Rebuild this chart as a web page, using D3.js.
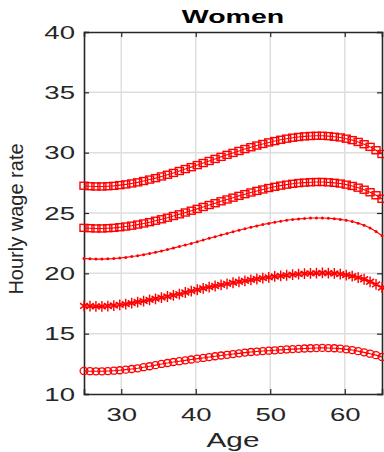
<!DOCTYPE html>
<html><head><meta charset="utf-8">
<script src="https://cdn.jsdelivr.net/npm/d3@7"></script>
<style>html,body{margin:0;padding:0;background:#fff;overflow:hidden}</style>
</head><body>
<svg id="chart" width="384" height="452"></svg>
<script>
const title = "Women";
const xLabel = "Age";
const yLabel = "Hourly wage rate";
const xTicks = [30, 40, 50, 60];
const yTicks = [10, 15, 20, 25, 30, 35, 40];
const ages = [25,25.8,26.6,27.4,28.2,29,29.8,30.6,31.4,32.2,33,33.8,34.6,35.4,36.2,37,37.8,38.6,39.4,40.2,41,41.8,42.6,43.4,44.2,45,45.8,46.6,47.4,48.2,49,49.8,50.6,51.4,52.2,53,53.8,54.6,55.4,56.2,57,57.8,58.6,59.4,60.2,61,61.8,62.6,63.4,64.2,65];
const seriesTop = [27.26,27.22,27.20,27.20,27.22,27.25,27.31,27.37,27.45,27.54,27.65,27.77,27.89,28.03,28.17,28.32,28.48,28.64,28.80,28.97,29.14,29.31,29.48,29.65,29.82,29.98,30.14,30.30,30.45,30.59,30.72,30.85,30.96,31.07,31.16,31.24,31.30,31.35,31.38,31.40,31.40,31.37,31.32,31.26,31.16,31.04,30.89,30.70,30.48,30.20,29.89];
const seriesSecond = [23.77,23.74,23.72,23.72,23.74,23.77,23.82,23.88,23.95,24.04,24.13,24.24,24.36,24.48,24.61,24.75,24.89,25.04,25.19,25.34,25.50,25.66,25.81,25.97,26.12,26.27,26.42,26.56,26.70,26.83,26.95,27.07,27.17,27.27,27.35,27.42,27.48,27.52,27.55,27.57,27.57,27.54,27.50,27.44,27.35,27.24,27.10,26.93,26.72,26.47,26.18];
const seriesMiddle = [21.23,21.20,21.18,21.18,21.20,21.22,21.27,21.32,21.39,21.46,21.55,21.64,21.74,21.85,21.97,22.09,22.22,22.35,22.48,22.62,22.76,22.90,23.03,23.17,23.30,23.44,23.57,23.70,23.82,23.93,24.04,24.14,24.24,24.32,24.40,24.46,24.51,24.55,24.58,24.59,24.59,24.57,24.53,24.47,24.40,24.30,24.16,23.98,23.76,23.46,23.12];
const seriesFourth = [17.30,17.28,17.26,17.26,17.29,17.33,17.39,17.45,17.53,17.62,17.70,17.80,17.89,17.99,18.08,18.18,18.28,18.41,18.53,18.64,18.76,18.86,18.95,19.04,19.13,19.22,19.30,19.38,19.46,19.53,19.60,19.67,19.74,19.79,19.84,19.89,19.93,19.97,20.00,20.02,20.03,20.02,19.99,19.94,19.86,19.77,19.65,19.51,19.30,19.08,18.82];
const seriesBottom = [11.91,11.89,11.88,11.88,11.90,11.93,11.97,12.02,12.07,12.13,12.22,12.30,12.39,12.49,12.57,12.65,12.72,12.79,12.86,12.93,12.99,13.06,13.13,13.19,13.25,13.31,13.37,13.43,13.48,13.52,13.56,13.59,13.62,13.66,13.69,13.72,13.74,13.77,13.79,13.81,13.82,13.81,13.79,13.76,13.70,13.64,13.55,13.45,13.34,13.22,13.07];

const series = [
  {values: seriesTop, marker: "square"},
  {values: seriesSecond, marker: "square"},
  {values: seriesMiddle, marker: "dot"},
  {values: seriesFourth, marker: "asterisk"},
  {values: seriesBottom, marker: "circle"}
];

const red = "#ff0000";
const axisColor = "#262626";
const margin = {left: 84, right: 2, top: 32, bottom: 58};
const W = 384, H = 452;
const x = d3.scaleLinear().domain([25, 65]).range([margin.left, W - margin.right]);
const y = d3.scaleLinear().domain([10, 40]).range([H - margin.bottom, margin.top]);
const svg = d3.select("#chart");
const font = "'Liberation Sans', Arial, Helvetica, sans-serif";

// grid
const grid = svg.append("g");
grid.selectAll("line.gx").data(xTicks).join("line")
  .attr("x1", d => x(d)).attr("x2", d => x(d))
  .attr("y1", y(10)).attr("y2", y(40))
  .attr("stroke", "#dedede").attr("stroke-width", 1.5);
grid.selectAll("line.gy").data(yTicks.filter(d => d > 10 && d < 40)).join("line")
  .attr("x1", x(25)).attr("x2", x(65))
  .attr("y1", d => y(d)).attr("y2", d => y(d))
  .attr("stroke", "#dedede").attr("stroke-width", 1.5);

// axes using d3 axis generators (inward ticks)
const fmt = d3.format("d");
const axB = svg.append("g").attr("transform", `translate(0,${y(10)})`)
  .call(d3.axisBottom(x).tickValues(xTicks).tickSize(-5).tickPadding(14).tickFormat(fmt));
const axT = svg.append("g").attr("transform", `translate(0,${y(40)})`)
  .call(d3.axisTop(x).tickValues(xTicks).tickSize(-5).tickFormat(""));
const axL = svg.append("g").attr("transform", `translate(${x(25)},0)`)
  .call(d3.axisLeft(y).tickValues(yTicks).tickSize(-5).tickPadding(10).tickFormat(fmt));
const axR = svg.append("g").attr("transform", `translate(${x(65)},0)`)
  .call(d3.axisRight(y).tickValues(yTicks).tickSize(-5).tickFormat(""));
[axB, axT, axL, axR].forEach(a => {
  a.select(".domain").attr("stroke", axisColor).attr("stroke-width", 1.6);
  a.selectAll(".tick line").attr("stroke", axisColor).attr("stroke-width", 1.2);
});
axB.selectAll(".tick text").attr("font-family", font).attr("font-size", 19).attr("fill", axisColor)
  .attr("dy", "0.71em").attr("transform", "scale(1.45,1)");
axL.selectAll(".tick text").attr("font-family", font).attr("font-size", 19).attr("fill", axisColor)
  .attr("transform", "scale(1.45,1)").attr("x", -9/1.45);

// series
const lineGen = d3.line().x((d, i) => x(ages[i])).y(d => y(d));
const plot = svg.append("g");
series.forEach(s => {
  const g = plot.append("g");
  g.append("path").datum(s.values).attr("d", lineGen)
    .attr("fill", "none").attr("stroke", red).attr("stroke-width", 1.1);
  const pts = s.values.map((v, i) => [x(ages[i]), y(v)]);
  if (s.marker === "square") {
    g.selectAll("rect").data(pts).join("rect")
      .attr("x", d => d[0] - 4).attr("y", d => d[1] - 3.5).attr("width", 8).attr("height", 7)
      .attr("fill", "none").attr("stroke", red).attr("stroke-width", 1.4);
  } else if (s.marker === "circle") {
    g.selectAll("ellipse").data(pts).join("ellipse")
      .attr("cx", d => d[0]).attr("cy", d => d[1]).attr("rx", 3.9).attr("ry", 3.5)
      .attr("fill", "none").attr("stroke", red).attr("stroke-width", 1.3);
  } else if (s.marker === "dot") {
    g.selectAll("circle").data(pts).join("circle")
      .attr("cx", d => d[0]).attr("cy", d => d[1]).attr("r", 1.5).attr("fill", red);
  } else if (s.marker === "asterisk") {
    const sym = d3.symbol().type(d3.symbolAsterisk).size(48);
    g.selectAll("path.m").data(pts).join("path").attr("class", "m")
      .attr("transform", d => `translate(${d[0]},${d[1]}) scale(1.1,1.3)`)
      .attr("d", sym).attr("fill", "none").attr("stroke", red).attr("stroke-width", 1.3);
  }
});

// title and labels
svg.append("text").attr("x", 0).attr("y", 23)
  .attr("transform", `translate(${x(45)},0) scale(1.5,1)`)
  .attr("text-anchor", "middle").attr("font-family", font).attr("font-weight", "bold")
  .attr("font-size", 19).attr("fill", "#000").text(title);
svg.append("text").attr("x", 0).attr("y", 447)
  .attr("transform", `translate(${x(45)},0) scale(1.42,1)`)
  .attr("text-anchor", "middle").attr("font-family", font)
  .attr("font-size", 21).attr("fill", axisColor).text(xLabel);
svg.append("text")
  .attr("transform", `translate(23,219) rotate(-90)`)
  .attr("text-anchor", "middle").attr("font-family", font)
  .attr("font-size", 20).attr("fill", axisColor).text(yLabel);
</script>
</body></html>
